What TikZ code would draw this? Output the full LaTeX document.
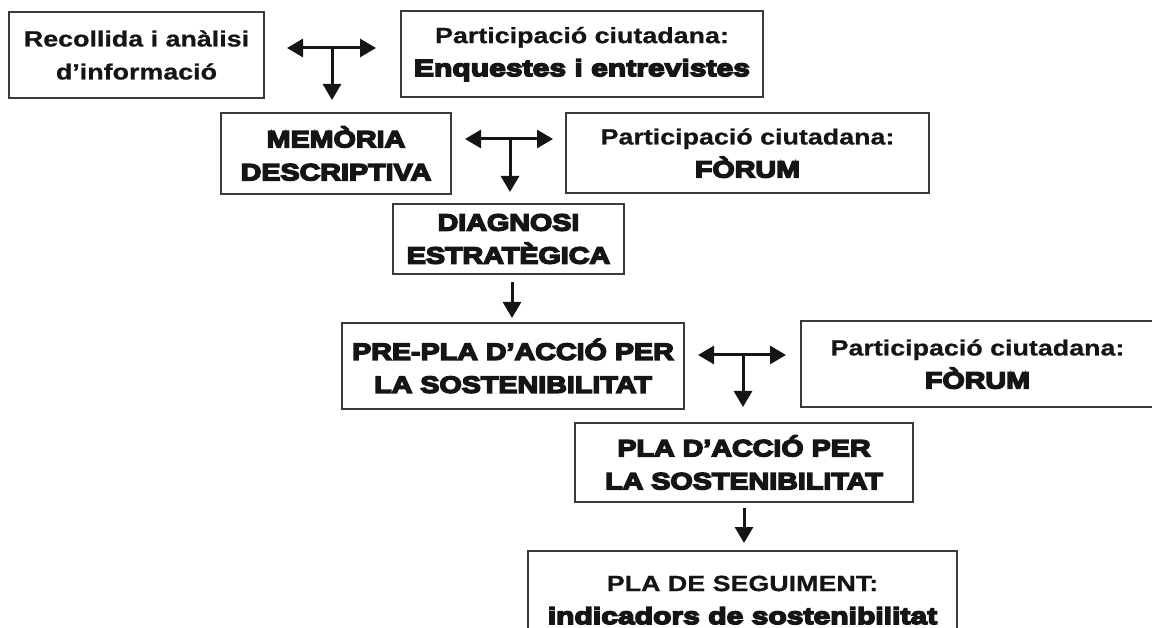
\documentclass[tikz,border=0pt]{standalone}
\usepackage{fontspec}
\setmainfont{Liberation Sans}
\newfontfamily\rb[FakeStretch=1.22,FakeBold=0.8]{Liberation Sans Bold}
\newfontfamily\hv[FakeStretch=1.22,FakeBold=6.5]{Liberation Sans Bold}
\newfontfamily\hvl[FakeStretch=1.28,FakeBold=6.5]{Liberation Sans Bold}
\newcommand{\rbs}{\fontsize{22}{33}\selectfont\rb}
\newcommand{\hvs}{\fontsize{23.5}{33}\selectfont\hv}
\newcommand{\hvls}{\fontsize{23.5}{33}\selectfont\hvl}
\usetikzlibrary{arrows.meta}
\definecolor{boxline}{HTML}{3A3A3A}
\definecolor{ink}{HTML}{151515}
\tikzset{
  box/.style={draw=boxline, line width=1.8pt, rectangle, inner sep=0pt, align=center,
    text=ink, font=\fontsize{23}{33}\selectfont},
  conn/.style={draw=ink, line width=3pt, -{Triangle[length=16pt,width=18pt]}},
  dconn/.style={draw=ink, line width=3pt, {Triangle[length=16pt,width=18pt]}-{Triangle[length=16pt,width=18pt]}},
  stem/.style={draw=ink, line width=3pt, -{Triangle[length=16pt,width=18pt]}}
}
\begin{document}
\begin{tikzpicture}[x=1pt,y=-1pt]
\useasboundingbox (0,0) rectangle (1152,628);
\clip (0,0) rectangle (1152,628);
% boxes
\node[box, minimum width=255pt, minimum height=86pt] (b1) at (136.5,55) {\rbs Recollida i anàlisi\\\rbs d’informació};
\node[box, minimum width=362pt, minimum height=86pt] (b2) at (582,54) {\rbs Participació ciutadana:\\\hvls Enquestes i entrevistes};
\node[box, minimum width=230pt, minimum height=81pt] (b3) at (336,153.5) {\hvs MEMÒRIA\\\hvs DESCRIPTIVA};
\node[box, minimum width=363pt, minimum height=80pt] (b4) at (747.5,153) {\rbs Participació ciutadana:\\\hvs FÒRUM};
\node[box, minimum width=231pt, minimum height=70pt] (b5) at (508.5,239) {\hvs DIAGNOSI\\\hvs ESTRATÈGICA};
\node[box, minimum width=342pt, minimum height=86pt] (b6) at (513,366) {\hvs PRE-PLA D’ACCIÓ PER\\\hvs LA SOSTENIBILITAT};
\node[box, minimum width=353pt, minimum height=86pt] (b7) at (977.5,364) {\rbs Participació ciutadana:\\\hvs FÒRUM};
\node[box, minimum width=338pt, minimum height=79pt] (b8) at (744,462.5) {\hvs PLA D’ACCIÓ PER\\\hvs LA SOSTENIBILITAT};
\node[box, minimum width=429pt, minimum height=98pt] (b9) at (742.5,600) {\rbs PLA DE SEGUIMENT:\\\hvls indicadors de sostenibilitat};
% arrow 1
\coordinate (a1l) at (287,48);
\coordinate (a1r) at (376,48);
\coordinate (a1m) at (332,48);
\coordinate (a1d) at (332,100);
\draw[dconn] (a1l) -- (a1r);
\draw[stem] (a1m) -- (a1d);
% arrow 2
\coordinate (a2l) at (465,139);
\coordinate (a2r) at (553,139);
\coordinate (a2m) at (510,139);
\coordinate (a2d) at (510,192);
\draw[dconn] (a2l) -- (a2r);
\draw[stem] (a2m) -- (a2d);
% arrow 3
\coordinate (a3t) at (512,282);
\coordinate (a3d) at (512,318);
\draw[conn] (a3t) -- (a3d);
% arrow 4
\coordinate (a4l) at (698,355);
\coordinate (a4r) at (786,355);
\coordinate (a4m) at (743,355);
\coordinate (a4d) at (743,407);
\draw[dconn] (a4l) -- (a4r);
\draw[stem] (a4m) -- (a4d);
% arrow 5
\coordinate (a5t) at (744,508);
\coordinate (a5d) at (744,543);
\draw[conn] (a5t) -- (a5d);
\end{tikzpicture}
\end{document}
